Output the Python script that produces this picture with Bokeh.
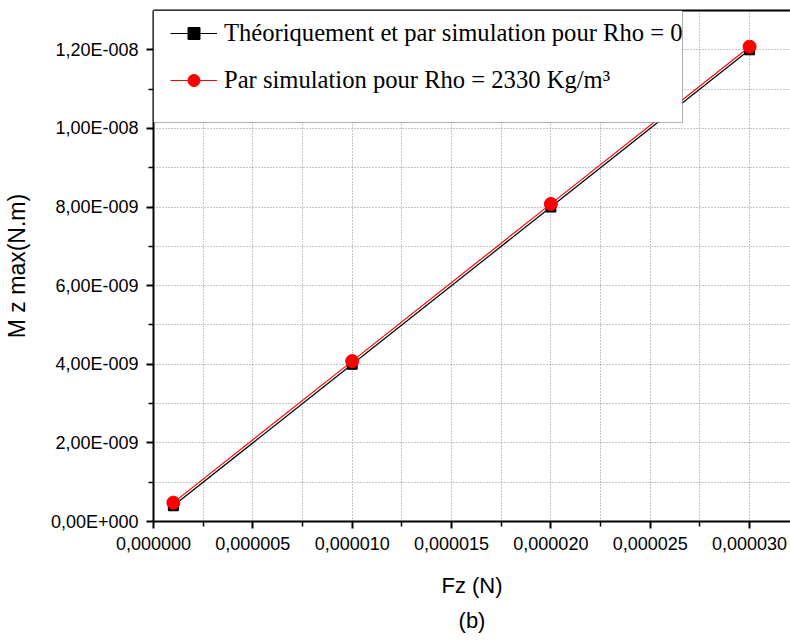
from bokeh.plotting import figure
from bokeh.models import (Range1d, FixedTicker, CustomJSTickFormatter, LinearAxis,
                          Legend, LegendItem, BoxAnnotation, Title)
from bokeh.embed import file_html
from bokeh.resources import INLINE

# ---- data ----
fz = [1e-6, 10e-6, 20e-6, 30e-6]
mz_theo = [4.0e-10, 4.0e-9, 8.0e-9, 1.2e-8]
mz_sim = [4.8e-10, 4.08e-9, 8.08e-9, 1.208e-8]

x_ticks = [0, 5e-6, 10e-6, 15e-6, 20e-6, 25e-6, 30e-6]
x_minor = [2.5e-6, 7.5e-6, 12.5e-6, 17.5e-6, 22.5e-6, 27.5e-6]
y_ticks = [0, 2e-9, 4e-9, 6e-9, 8e-9, 1.0e-8, 1.2e-8]
y_minor = [1e-9, 3e-9, 5e-9, 7e-9, 9e-9, 1.1e-8]

label_theo = "Théoriquement et par simulation pour Rho = 0"
label_sim = "Par simulation pour Rho = 2330 Kg/m³"

# ---- layout ----
W, H = 790, 643
LEFT, TOP, BOTTOM = 153, 10, 122
FRAME_W = W - LEFT
FRAME_H = H - TOP - BOTTOM

p = figure(width=W, height=H, output_backend="svg", toolbar_location=None,
           x_range=Range1d(0, 3.206e-5), y_range=Range1d(0, 1.3e-8),
           min_border_left=LEFT, min_border_right=0, min_border_top=TOP,
           min_border_bottom=BOTTOM, background_fill_color="white",
           border_fill_color="white")
p.outline_line_color = None
p.title.visible = False

xt = FixedTicker(ticks=x_ticks, minor_ticks=x_minor)
yt = FixedTicker(ticks=y_ticks, minor_ticks=y_minor)
p.xaxis.ticker = xt
p.yaxis.ticker = yt
p.xaxis.formatter = CustomJSTickFormatter(code="return tick.toFixed(6).replace('.', ',');")
p.yaxis.formatter = CustomJSTickFormatter(code="""
if (Math.abs(tick) < 1e-30) return '0,00E+000';
const e = Math.floor(Math.log10(Math.abs(tick)) + 1e-9);
const m = tick / Math.pow(10, e);
const s = e < 0 ? '-' : '+';
return m.toFixed(2).replace('.', ',') + 'E' + s + String(Math.abs(e)).padStart(3, '0');
""")

for ax in (p.xaxis[0], p.yaxis[0]):
    ax.axis_line_width = 2
    ax.axis_line_color = "black"
    ax.major_tick_line_width = 2
    ax.major_tick_line_color = "black"
    ax.minor_tick_line_width = 1.5
    ax.minor_tick_line_color = "black"
    ax.major_tick_out = 7
    ax.major_tick_in = 0
    ax.minor_tick_out = 5
    ax.minor_tick_in = 0
    ax.major_label_text_font = "Liberation Sans"
    ax.major_label_text_font_size = "18px"
    ax.major_label_text_color = "black"
    ax.axis_label_text_font = "Liberation Sans"
    ax.axis_label_text_font_size = "22px"
    ax.axis_label_text_font_style = "normal"
    ax.axis_label_text_color = "black"
    ax.major_label_standoff = 8

p.xaxis.axis_label = "Fz (N)"
p.xaxis.axis_label_standoff = 20
p.yaxis.axis_label = "M z max(N.m)"
p.yaxis.axis_label_text_font_size = "23px"
p.yaxis.axis_label_standoff = 18

# top border
top_axis = LinearAxis(ticker=FixedTicker(ticks=[]), major_label_text_font_size="0px",
                      major_tick_line_color=None, minor_tick_line_color=None,
                      major_tick_out=0, major_label_standoff=0,
                      axis_line_width=2, axis_line_color="black")
p.add_layout(top_axis, "above")

# grid
for g in (p.xgrid[0], p.ygrid[0]):
    g.grid_line_color = "#8c8c8c"
    g.grid_line_dash = "1 2"
    g.grid_line_width = 1
    g.minor_grid_line_color = "#8c8c8c"
    g.minor_grid_line_dash = "1 2"
    g.minor_grid_line_width = 1

# data
l1 = p.line(fz, mz_theo, line_color="black", line_width=1.2)
s1 = p.scatter(fz, mz_theo, marker="square", size=10, fill_color="black", line_color="black")
l2 = p.line(fz, mz_sim, line_color="red", line_width=1.2)
s2 = p.scatter(fz, mz_sim, marker="circle", size=13, fill_color="red", line_color="red")

# legend box
box = BoxAnnotation(left=0, right=682 - LEFT, top=FRAME_H, bottom=FRAME_H - (122 - TOP),
                    left_units="screen", right_units="screen", top_units="screen",
                    bottom_units="screen", fill_color="white", fill_alpha=1.0,
                    line_color="black", line_width=1)
p.add_layout(box)

legend = Legend(items=[LegendItem(label=label_theo, renderers=[l1, s1]),
                       LegendItem(label=label_sim, renderers=[l2, s2])],
                location=(17, FRAME_H - 8 - 77), margin=0, padding=0,
                glyph_width=47, glyph_height=30, label_height=30, spacing=17,
                label_standoff=7, label_text_font="Liberation Serif",
                label_text_font_size="24.6px", label_text_color="black",
                border_line_color=None, background_fill_alpha=0)
p.add_layout(legend)

p.add_layout(Title(text="(b)", align="center", text_font="Liberation Sans",
                   text_font_size="22px", text_font_style="normal",
                   text_color="black", standoff=10), "below")

open("out.html", "w").write(file_html(p, INLINE))
